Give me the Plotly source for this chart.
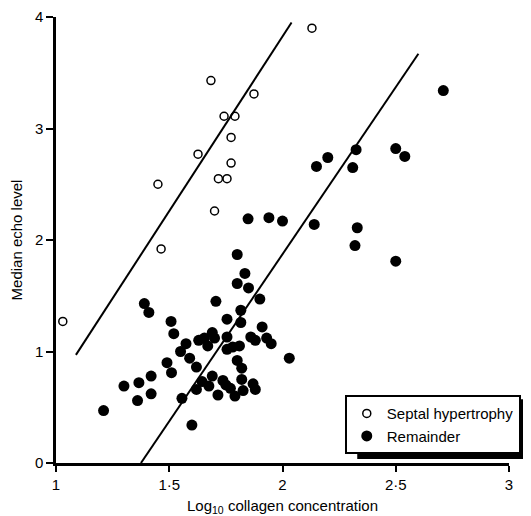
import plotly.graph_objects as go

# Septal hypertrophy (open circles)
septal_x = [1.03, 1.464, 1.45, 1.70, 1.717, 1.755, 1.773, 1.627, 1.773, 1.742, 1.79, 1.874, 1.684, 2.13]
septal_y = [1.27, 1.92, 2.50, 2.26, 2.55, 2.55, 2.69, 2.77, 2.92, 3.11, 3.11, 3.31, 3.43, 3.90]

# Remainder (filled circles)
rem_x = [1.21, 1.30, 1.366, 1.36, 1.42, 1.42, 1.39, 1.41, 1.508, 1.52,
         1.49, 1.51, 1.55, 1.574, 1.59, 1.62, 1.556, 1.60, 1.62, 1.645,
         1.675, 1.69, 1.715, 1.706, 1.755, 1.63, 1.655, 1.67, 1.69, 1.70,
         1.755, 1.755, 1.78, 1.81, 1.80, 1.82, 1.80, 1.834, 1.80, 1.85,
         1.816, 1.816, 1.737, 1.75, 1.77, 1.79, 1.82, 1.826, 1.87, 1.88,
         1.90, 1.91, 1.86, 1.88, 1.93, 1.95, 2.03, 1.848, 1.94, 2.00,
         2.14, 2.15, 2.20, 2.31, 2.325, 2.33, 2.32, 2.50, 2.50, 2.54, 2.71]
rem_y = [0.47, 0.69, 0.72, 0.56, 0.78, 0.62, 1.43, 1.35, 1.27, 1.16,
         0.90, 0.81, 1.00, 1.07, 0.94, 0.86, 0.58, 0.34, 0.66, 0.73,
         0.69, 0.78, 0.61, 1.45, 1.29, 1.10, 1.12, 1.05, 1.17, 1.12,
         1.13, 1.02, 1.04, 1.05, 0.92, 0.85, 1.87, 1.70, 1.61, 1.57,
         1.37, 1.26, 0.74, 0.70, 0.67, 0.60, 0.75, 0.65, 0.71, 0.66,
         1.47, 1.22, 1.13, 1.10, 1.12, 1.07, 0.94, 2.19, 2.20, 2.17,
         2.14, 2.66, 2.74, 2.65, 2.81, 2.11, 1.95, 1.81, 2.82, 2.75, 3.34]

# Fitted lines (endpoints)
upper_line_x = [1.088, 2.04]
upper_line_y = [0.97, 3.95]
lower_line_x = [1.375, 2.60]
lower_line_y = [0.0, 3.67]

x_tickvals = [1, 1.5, 2, 2.5, 3]
x_ticktext = ["1", "1·5", "2", "2·5", "3"]
y_tickvals = [0, 1, 2, 3, 4]
y_ticktext = ["0", "1", "2", "3", "4"]

FONT = "Liberation Sans"

fig = go.Figure()
fig.add_trace(go.Scatter(x=upper_line_x, y=upper_line_y, mode="lines",
                         line=dict(color="black", width=2), showlegend=False, hoverinfo="skip"))
fig.add_trace(go.Scatter(x=lower_line_x, y=lower_line_y, mode="lines",
                         line=dict(color="black", width=2), showlegend=False, hoverinfo="skip"))
fig.add_trace(go.Scatter(x=septal_x, y=septal_y, mode="markers", name="Septal hypertrophy",
                         marker=dict(symbol="circle-open", size=8, color="black", line=dict(width=1.5))))
fig.add_trace(go.Scatter(x=rem_x, y=rem_y, mode="markers", name="Remainder",
                         marker=dict(symbol="circle", size=11, color="black")))

# legend drop shadow (paper coords; legend is drawn on top of it)
fig.add_shape(type="rect", xref="paper", yref="paper",
              x0=0.665, x1=1.035, y0=0.009, y1=0.143,
              fillcolor="black", line=dict(width=0), layer="above")

fig.update_layout(
    width=523, height=508,
    margin=dict(l=48, r=22, t=9, b=53, autoexpand=False),
    paper_bgcolor="white", plot_bgcolor="white",
    font=dict(family=FONT, size=15, color="black"),
    legend=dict(x=1.026, xanchor="right", y=0.152, yanchor="top",
                bgcolor="white", bordercolor="black", borderwidth=2,
                font=dict(size=15), itemwidth=30, tracegroupgap=0),
    xaxis=dict(range=[1, 3], tickvals=x_tickvals, ticktext=x_ticktext, automargin=False,
               ticklabeloverflow="allow",
               showgrid=False, zeroline=False, showline=True, linecolor="black", linewidth=2.5,
               ticks="outside", ticklen=6, tickwidth=2, tickcolor="black",
               title=dict(text="Log<sub>10</sub> collagen concentration", standoff=9,
                          font=dict(size=15))),
    yaxis=dict(range=[0, 4], tickvals=y_tickvals, ticktext=y_ticktext, automargin=False,
               ticklabeloverflow="allow",
               showgrid=False, zeroline=False, showline=True, linecolor="black", linewidth=2.5,
               ticks="outside", ticklen=7, tickwidth=2, tickcolor="black",
               title=dict(text="Median echo level", standoff=28, font=dict(size=15))),
)

fig.write_html("out.html")
